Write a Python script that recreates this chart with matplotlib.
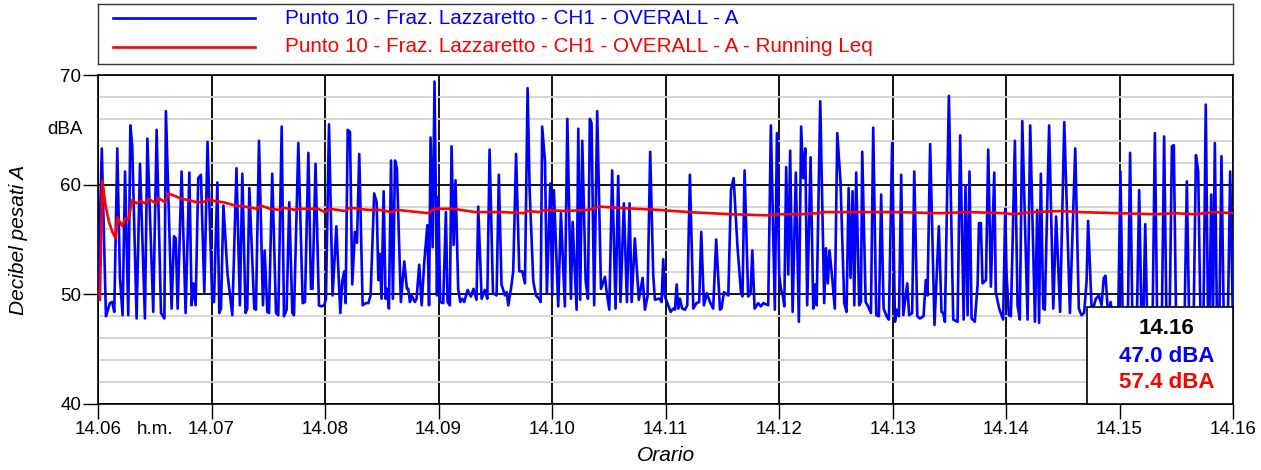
import numpy as np
import matplotlib
matplotlib.use("Agg")
import matplotlib.pyplot as plt
from matplotlib.patches import Rectangle
from matplotlib import transforms

plt.rcParams['font.family'] = ['Liberation Sans', 'DejaVu Sans']

# time axis: seconds after 14.06
tick_pos = [0, 60, 120, 180, 240, 300, 360, 420, 480, 540, 600]
tick_labels = ['14.06', '14.07', '14.08', '14.09', '14.10', '14.11',
               '14.12', '14.13', '14.14', '14.15', '14.16']

label_blue = 'Punto 10 - Fraz. Lazzaretto - CH1 - OVERALL - A'
label_red = 'Punto 10 - Fraz. Lazzaretto - CH1 - OVERALL - A - Running Leq'

# blue series (dBA)
seg_a_t = [0, 2.0, 4.2, 6.3, 7.5, 8.6, 10.2, 11.6, 13.0, 14.3,
           16.0, 17.1, 18.1, 20.4, 22.2, 24.8, 26.1, 29.2, 31.0, 33.3,
           35.1, 35.9, 38.9, 40.2, 41.1, 42.1, 44.2, 46.3, 48.3, 49.5,
           50.4, 51.6, 53.0, 54.4, 56.2, 57.9, 60.4, 61.3, 63.1, 64.1,
           65.0, 66.3, 68.5, 71.0, 73.2]
seg_a_v = [49.5, 63.3, 48.0, 49.2, 49.3, 48.4, 63.3, 51.5, 48.1, 61.2,
           48.1, 65.4, 63.5, 47.8, 61.9, 47.8, 64.2, 48.4, 65.0, 48.3,
           47.8, 66.7, 48.7, 55.3, 55.1, 48.7, 61.2, 48.3, 61.1, 49.0,
           51.0, 49.0, 60.6, 60.9, 50.2, 63.9, 49.3, 49.3, 60.2, 48.3,
           48.7, 58.1, 51.8, 48.1, 61.5]

seg_b_t = [75.0, 76.3, 78.0, 78.9, 80.0, 82.6, 83.5, 85.1, 87.2, 88.1,
           89.5, 90.4, 92.1, 94.1, 95.3, 97.1, 98.3, 99.7, 101.1, 102.7,
           103.6, 105.9, 108.2, 109.4, 111.2, 112.6, 113.4, 115.0, 116.8, 117.9,
           119.6, 120.5, 122.1, 124.0, 126.0, 128.1, 129.1, 130.2, 130.9, 132.0,
           133.2, 134.4, 135.8, 136.9, 138.1, 139.9, 141.5, 142.9, 144.1, 146.0,
           147.3]
seg_b_v = [49.0, 61.0, 48.3, 48.7, 59.7, 48.7, 48.6, 64.0, 49.0, 54.0,
           48.4, 48.3, 61.0, 48.3, 48.1, 65.3, 48.0, 48.6, 58.4, 48.3,
           48.1, 63.8, 49.2, 49.3, 62.9, 50.5, 50.5, 61.9, 49.0, 48.9,
           49.0, 49.6, 65.5, 49.9, 56.2, 48.3, 51.2, 52.1, 49.2, 65.0,
           64.8, 50.9, 55.7, 54.7, 62.8, 49.0, 49.2, 49.2, 49.9, 59.2,
           58.4]

seg_c_t = [148.2, 148.9, 149.9, 151.0, 152.0, 152.7, 153.8, 154.9, 155.9, 157.0,
           158.0, 160.1, 161.9, 163.3, 164.0, 164.9, 165.8, 167.5, 168.4, 169.8,
           171.1, 172.5, 174.1, 175.0, 175.8, 176.9, 177.9, 179.2, 179.9, 180.9,
           182.5, 183.9, 184.8, 186.0, 186.9, 188.0, 189.0, 190.4, 191.5, 192.6,
           193.6, 195.4, 197.1, 198.5, 200.1, 201.0, 202.8, 204.5, 205.8, 207.0,
           208.8, 210.7, 211.9, 213.3, 215.1, 216.0, 216.9, 218.3, 219.5, 221.0]
seg_c_v = [51.3, 53.7, 49.6, 59.4, 49.6, 50.5, 48.7, 62.2, 49.6, 62.2,
           61.5, 49.3, 53.0, 50.5, 50.5, 49.3, 49.9, 49.3, 49.6, 52.7,
           49.0, 53.0, 56.3, 49.0, 64.3, 54.3, 69.4, 49.9, 58.9, 49.3,
           49.2, 57.5, 49.3, 49.0, 63.5, 54.5, 60.4, 50.5, 49.3, 49.6,
           49.3, 50.4, 49.8, 50.5, 49.5, 58.0, 49.6, 50.4, 49.6, 63.2,
           50.1, 49.9, 60.9, 50.9, 49.9, 50.2, 49.0, 50.5, 52.1, 62.8]

seg_d_t = [222.7, 224.3, 225.7, 227.1, 228.2, 230.1, 231.5, 233.1, 234.0, 234.8,
           236.3, 237.3, 239.1, 240.1, 241.0, 243.3, 244.7, 246.8, 248.1, 250.0,
           250.9, 253.0, 253.9, 254.9, 256.0, 257.8, 259.0, 260.0, 260.9, 262.3,
           263.9, 265.9, 268.0, 268.9, 270.3, 271.8, 273.6, 275.0, 276.2, 278.0,
           279.6, 281.0, 282.1, 283.8, 285.9, 287.9, 289.1, 290.5, 291.9, 293.5,
           294.4, 296.2]
seg_d_v = [52.1, 52.1, 51.0, 68.8, 59.4, 51.2, 49.9, 49.6, 49.3, 65.3,
           62.1, 50.1, 60.1, 49.9, 59.5, 48.9, 57.4, 48.9, 66.0, 49.6,
           56.6, 48.6, 65.1, 49.5, 64.0, 51.2, 49.6, 66.0, 65.6, 49.0,
           66.7, 50.5, 51.6, 50.2, 48.6, 61.3, 48.7, 60.8, 49.3, 58.3,
           49.3, 58.3, 49.3, 55.1, 49.5, 51.5, 48.6, 49.8, 63.0, 51.8,
           49.5, 49.6]

seg_e_t = [297.0, 297.9, 298.8, 299.7, 301.4, 302.7, 304.1, 305.0, 305.9, 306.7,
           307.6, 308.8, 310.3, 311.5, 312.9, 314.7, 316.4, 317.8, 318.9, 320.3,
           321.9, 323.5, 325.2, 326.8, 328.8, 329.6, 330.9, 333.2, 334.6, 336.0,
           338.1, 339.9, 340.7, 341.8, 343.7, 345.0, 345.9, 347.1, 349.0, 350.4,
           351.7, 354.3, 355.7, 357.8, 358.9, 360.1, 361.0, 362.1, 362.8, 363.8,
           364.9, 365.9, 367.2, 368.9, 370.5]
seg_e_v = [49.6, 49.3, 53.2, 49.8, 49.0, 48.4, 48.7, 48.6, 50.9, 48.7,
           49.6, 48.7, 48.6, 49.0, 60.9, 48.7, 49.2, 49.3, 55.7, 49.0,
           50.1, 49.3, 48.7, 55.0, 48.6, 48.7, 50.2, 49.9, 59.5, 60.6,
           54.2, 50.2, 49.8, 61.3, 49.8, 50.1, 54.0, 48.7, 49.2, 48.9,
           49.2, 49.0, 65.4, 48.6, 64.7, 51.8, 50.5, 49.8, 48.9, 61.6,
           51.8, 63.1, 48.4, 61.1, 47.5]

seg_f_t = [371.7, 372.8, 373.9, 374.9, 376.7, 378.1, 379.0, 379.9, 381.8, 383.9,
           384.8, 385.8, 386.7, 387.8, 389.5, 390.8, 392.5, 394.5, 395.7, 396.8,
           397.8, 398.9, 399.8, 400.8, 402.4, 403.3, 404.0, 405.8, 406.8, 408.6,
           409.8, 411.4, 412.8, 414.0, 415.3, 416.9, 418.1, 419.8, 421.3, 422.3,
           423.4, 424.6, 425.7, 427.8, 428.8, 430.4, 431.5, 433.1, 434.5, 436.4,
           437.6, 438.5, 439.9, 442.2]
seg_f_v = [65.3, 60.6, 63.3, 49.0, 62.5, 48.7, 50.9, 49.0, 67.6, 49.2,
           54.2, 51.0, 54.0, 52.1, 48.7, 64.7, 60.3, 49.2, 48.4, 59.7,
           51.5, 59.4, 49.0, 61.1, 49.0, 49.3, 63.0, 49.3, 49.0, 48.3,
           65.2, 48.1, 48.0, 59.1, 48.7, 48.0, 47.7, 63.8, 47.5, 48.6,
           48.0, 60.9, 48.1, 51.0, 48.1, 48.3, 61.2, 48.0, 47.8, 48.0,
           51.3, 49.9, 63.7, 47.2]

seg_g_t = [444.5, 445.9, 446.8, 447.7, 449.8, 452.1, 454.4, 455.8, 457.6, 458.6,
           459.7, 460.7, 461.8, 463.5, 465.0, 465.7, 466.7, 467.6, 469.4, 470.6,
           472.0, 473.8, 474.6, 476.4, 478.5, 479.6, 480.3, 481.5, 482.6, 484.7,
           486.1, 487.3, 488.6, 491.4, 492.8, 495.3, 496.5, 497.5, 498.4, 499.7,
           500.5, 502.8, 505.0, 506.5, 508.6, 510.8, 513.8, 516.6]
seg_g_v = [56.2, 48.4, 48.3, 47.5, 68.1, 47.7, 47.5, 64.5, 47.7, 59.9,
           48.1, 61.2, 47.8, 47.5, 50.9, 56.5, 56.5, 51.0, 51.3, 63.2,
           50.7, 61.1, 50.2, 48.7, 47.7, 57.8, 51.8, 48.1, 48.0, 64.0,
           49.0, 47.7, 65.8, 47.7, 65.4, 47.5, 57.7, 47.4, 61.0, 48.7,
           48.6, 65.4, 48.7, 57.1, 48.4, 65.7, 48.3, 63.3]

seg_h_t = [518.5, 519.9, 521.3, 522.6, 523.4, 525.2, 526.1, 527.5, 529.1, 530.5,
           531.7, 532.6, 534.0, 535.3, 536.5, 539.3, 540.5, 541.7, 544.4, 545.6,
           546.8, 549.2, 550.4, 551.6, 552.6, 553.6, 554.6, 557.5, 558.7, 559.9,
           562.4, 563.6, 564.8, 566.5, 567.7, 568.7, 569.9, 574.4, 575.6, 576.8,
           579.2, 580.4, 581.6, 582.8, 584.4, 585.6, 586.8, 587.5, 588.5, 589.4,
           590.4, 591.5, 592.8, 593.9, 595.1, 597.3, 598.5, 600.0]
seg_h_v = [48.7, 48.1, 48.3, 51.2, 56.7, 49.0, 48.7, 49.6, 49.9, 49.0,
           51.5, 51.7, 48.0, 49.3, 47.8, 47.8, 61.2, 47.8, 47.8, 62.9,
           47.8, 47.8, 59.5, 47.8, 47.8, 56.4, 47.8, 47.8, 64.7, 47.8,
           47.8, 64.4, 47.8, 47.8, 63.5, 63.6, 47.8, 47.8, 60.3, 47.8,
           47.8, 62.7, 61.2, 47.8, 47.8, 67.3, 47.8, 47.8, 59.1, 47.8,
           63.8, 47.8, 47.8, 62.6, 47.8, 47.8, 61.2, 47.0]

# red series: running Leq
red_t = [1.0, 2.3, 4.0, 5.8, 7.6, 9.3, 10.2, 12.9, 14.3, 16.0,
         18.1, 20.4, 22.6, 24.8, 26.6, 30.7, 31.9, 35.4, 37.2, 41.6,
         44.2, 47.7, 52.1, 55.7, 58.3, 61.8, 66.3, 72.4, 77.7, 83.9,
         86.1, 90.9, 96.2, 97.9, 104.1, 106.2, 116.4, 120.0, 122.6, 130.5,
         133.2, 137.6, 142.9, 149.0, 155.2, 157.9, 174.6, 177.8, 187.8, 199.3,
         206.3, 213.3, 225.3, 226.6, 233.6, 235.9, 246.8, 259.2, 260.9, 265.3,
         273.3, 296.2, 312.0, 334.9, 354.3, 359.6, 371.0, 380.7, 382.5, 403.6,
         421.3, 445.0, 460.0, 479.4, 483.8, 493.5, 509.3, 519.0, 539.3, 558.7,
         569.3, 579.8, 590.4, 600.0]
red_v = [49.5, 60.4, 58.1, 56.6, 55.7, 55.1, 57.0, 56.2, 56.9, 56.8,
         58.6, 58.3, 58.5, 58.3, 58.7, 58.3, 58.8, 58.4, 59.2, 58.9,
         58.7, 58.6, 58.4, 58.4, 58.7, 58.5, 58.4, 58.1, 58.0, 57.8,
         58.1, 57.8, 57.7, 57.9, 57.7, 57.8, 57.8, 57.5, 57.8, 57.6,
         57.9, 57.8, 57.7, 57.7, 57.5, 57.7, 57.4, 57.8, 57.8, 57.5,
         57.5, 57.5, 57.4, 57.6, 57.5, 57.7, 57.6, 57.7, 57.8, 58.0,
         57.9, 57.7, 57.5, 57.3, 57.2, 57.3, 57.3, 57.4, 57.5, 57.5,
         57.5, 57.4, 57.5, 57.4, 57.3, 57.5, 57.6, 57.5, 57.4, 57.3,
         57.4, 57.3, 57.5, 57.4]

cursor_time = '14.16'
cursor_blue = '47.0 dBA'
cursor_red = '57.4 dBA'

blue_t = seg_a_t + seg_b_t + seg_c_t + seg_d_t + seg_e_t + seg_f_t + seg_g_t + seg_h_t
blue_v = seg_a_v + seg_b_v + seg_c_v + seg_d_v + seg_e_v + seg_f_v + seg_g_v + seg_h_v

W, H = 1261, 470
fig = plt.figure(figsize=(W / 100, H / 100), dpi=100)
ax = fig.add_axes([98 / W, 66 / H, 1135 / W, 329 / H])

ax.plot(blue_t, blue_v, color='#0000ff', lw=1.9, zorder=3)
ax.plot(red_t, red_v, color='#ff0000', lw=1.9, zorder=4)

ax.set_xlim(0, 600)
ax.set_ylim(40, 70)

ax.set_xticks(tick_pos)
ax.set_xticklabels(tick_labels)
ax.set_xticks([30], minor=True)
ax.set_xticklabels(['h.m.'], minor=True)
ax.set_yticks([40, 50, 60, 70])
ax.set_yticks(np.arange(42, 70, 2), minor=True)

ax.tick_params(axis='both', which='major', direction='out', length=10.5, width=1,
               labelsize=13.5, color='black', pad=1.5)
ax.tick_params(axis='x', which='minor', length=0, pad=12, labelsize=13.5)
ax.tick_params(axis='y', which='minor', length=0)

ax.set_axisbelow(True)
ax.grid(which='minor', axis='y', color='#d2d2d2', lw=1.3)
ax.grid(which='major', color='black', lw=1.3)
for sp in ax.spines.values():
    sp.set_linewidth(1.2)
    sp.set_color('black')

tr = transforms.blended_transform_factory(ax.transAxes, ax.transData)
ax.text(-15 / 1135, 65, 'dBA', transform=tr, ha='right', va='center', fontsize=13.5)

ax.set_xlabel('Orario', fontsize=15, style='italic')
ax.xaxis.set_label_coords(0.5, -(446 - 404) / 329)
ax.set_ylabel('Decibel pesati A', fontsize=15, style='italic')
ax.yaxis.set_label_coords(-(98 - 28) / 1135, 0.5)

# cursor box in the lower right corner
bx0 = (1087 - 98) / 1135
bh = (404 - 307) / 329
ax.add_patch(Rectangle((bx0, 0), 1 - bx0, bh, transform=ax.transAxes,
                       facecolor='white', edgecolor='black', lw=1.2, zorder=6,
                       clip_on=False))
cx = (1167 - 98) / 1135
ax.text(cx, (404 - 328) / 329, cursor_time, transform=ax.transAxes, ha='center',
        va='center', fontsize=16, fontweight='bold', color='black', zorder=7)
ax.text(cx, (404 - 356) / 329, cursor_blue, transform=ax.transAxes, ha='center',
        va='center', fontsize=16, fontweight='bold', color='#0000ff', zorder=7)
ax.text(cx, (404 - 383) / 329, cursor_red, transform=ax.transAxes, ha='center',
        va='center', fontsize=16, fontweight='bold', color='#ff0000', zorder=7)

# legend box above the plot
lg = fig.add_axes([98 / W, (H - 64) / H, 1135 / W, 60 / H])
lg.set_xlim(0, 1135)
lg.set_ylim(60, 0)
lg.set_xticks([])
lg.set_yticks([])
for sp in lg.spines.values():
    sp.set_linewidth(1)
    sp.set_color('#333333')
lg.plot([15, 157], [14, 14], color='#0000ff', lw=1.9)
lg.plot([15, 157], [43, 43], color='#ff0000', lw=1.9)
lg.text(187, 14, label_blue, color='#0000ff', fontsize=14.9, va='center')
lg.text(187, 43, label_red, color='#ff0000', fontsize=14.9, va='center')

fig.savefig('out.png', dpi=100)
